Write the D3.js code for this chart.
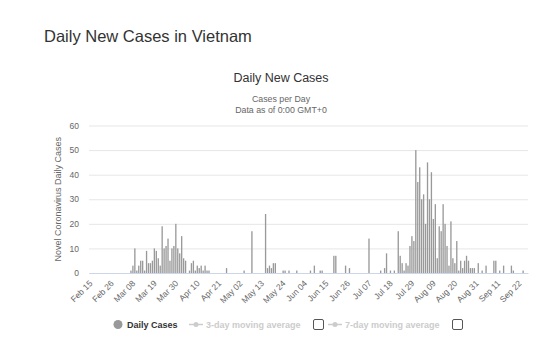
<!DOCTYPE html>
<html><head><meta charset="utf-8">
<script src="https://cdn.jsdelivr.net/npm/d3@7"></script>
<style>
body{margin:0;background:#fff;}
svg{display:block;font-family:"Liberation Sans",Arial,sans-serif;}
</style>
</head><body>
<svg id="chart" width="540" height="349"></svg>
<script>
// ---- data ----
const startDate = "2020-02-15";
const dailyCases = [
  0,0,0,0,0,0,0,0,0,0,0,0,0,0,0,
  0,0,0,0,0,0,1,3,10,1,3,5,5,1,9,
  4,4,5,10,9,6,3,19,10,11,14,5,10,11,20,
  10,8,15,6,5,0,1,4,5,1,3,2,3,1,3,
  1,1,0,0,0,0,0,0,0,0,2,0,0,0,0,
  0,0,0,0,1,0,0,0,17,0,0,0,0,0,0,
  24,2,3,2,4,4,0,0,0,1,1,0,1,0,0,
  0,1,0,0,0,0,0,0,1,0,3,0,0,1,1,
  0,0,0,0,0,7,7,0,0,0,0,3,0,2,0,
  0,0,0,0,0,0,0,0,14,0,0,0,0,0,1,
  0,2,8,0,1,0,1,0,17,7,4,1,4,3,11,
  15,13,50,37,43,30,32,20,45,30,41,22,28,6,19,
  17,28,20,11,3,21,6,4,13,1,5,2,5,7,5,
  2,2,2,0,4,0,1,0,3,0,0,0,5,5,0,
  1,0,3,0,0,0,3,1,0,0,0,0,1,0,0
];
const xTickLabels = ["Feb 15","Feb 26","Mar 08","Mar 19","Mar 30","Apr 10","Apr 21","May 02","May 13","May 24","Jun 04","Jun 15","Jun 26","Jul 07","Jul 18","Jul 29","Aug 09","Aug 20","Aug 31","Sep 11","Sep 22"];
const yTicks = [0,10,20,30,40,50,60];
const pageTitle = "Daily New Cases in Vietnam";
const chartTitle = "Daily New Cases";
const subtitles = ["Cases per Day","Data as of 0:00 GMT+0"];
const yAxisTitle = "Novel Coronavirus Daily Cases";
const legendLabels = ["Daily Cases","3-day moving average","7-day moving average"];

// ---- build ----
const fmt = d3.timeFormat("%b %d");
const start = d3.timeParse("%Y-%m-%d")(startDate);
const categories = dailyCases.map((v,i)=>fmt(d3.timeDay.offset(start,i)));
const rows = categories.map((c,i)=>({cat:c, value:dailyCases[i]}));

const svg = d3.select("#chart");
const plotL = 89, plotR = 528, plotT = 125.5, plotB = 273;

const x = d3.scaleBand().domain(categories).range([plotL,plotR]).paddingInner(0.32).paddingOuter(0.16);
const y = d3.scaleLinear().domain([0,60]).range([plotB,plotT]);

// titles
svg.append("text").attr("x",44).attr("y",42).attr("font-size",16.5).attr("fill","#333").text(pageTitle);
svg.append("text").attr("x",281).attr("y",82).attr("text-anchor","middle").attr("font-size",12.5).attr("fill","#333").text(chartTitle);
subtitles.forEach((s,i)=>svg.append("text").attr("x",281).attr("y",102+i*11).attr("text-anchor","middle").attr("font-size",8.8).attr("fill","#666").text(s));

// y grid + labels
const yAxis = d3.axisLeft(y).tickValues(yTicks).tickSize(-(plotR-plotL)).tickPadding(10);
const gy = svg.append("g").attr("transform",`translate(${plotL},0)`).call(yAxis);
gy.select(".domain").remove();
gy.selectAll(".tick line").attr("stroke","#e6e6e6");
gy.selectAll(".tick text").attr("fill","#666").attr("font-size",8.5).attr("font-family","Liberation Sans, Arial, sans-serif");

svg.append("text").attr("transform",`translate(61,${(plotT+plotB)/2}) rotate(-90)`).attr("text-anchor","middle")
  .attr("font-size",9).attr("fill","#666").text(yAxisTitle);

// bars
svg.append("g").selectAll("rect").data(rows).join("rect")
  .attr("x",d=>x(d.cat)).attr("width",x.bandwidth())
  .attr("y",d=>y(d.value)).attr("height",d=>y(0)-y(d.value))
  .attr("fill","#999");

// x axis
const xAxis = d3.axisBottom(x).tickValues(categories.filter(c=>xTickLabels.includes(c))).tickSize(0).tickPadding(0);
const gx = svg.append("g").attr("transform",`translate(0,${plotB})`).call(xAxis);
gx.select(".domain").attr("stroke","#ccd6eb");
gx.selectAll(".tick text").attr("fill","#666").attr("font-size",8.5).attr("font-family","Liberation Sans, Arial, sans-serif")
  .attr("text-anchor","end").attr("dy",0).attr("y",0).attr("transform","translate(3,11) rotate(-45)");

// legend
const ly = 325;
const lg = svg.append("g");
lg.append("circle").attr("cx",118).attr("cy",ly-0.5).attr("r",4.5).attr("fill","#999");
lg.append("text").attr("x",127).attr("y",ly+3).attr("font-size",9).attr("font-weight","bold").attr("fill","#333").text(legendLabels[0]);
function lineSym(cx){
  lg.append("line").attr("x1",cx-7).attr("x2",cx+7).attr("y1",ly-0.5).attr("y2",ly-0.5).attr("stroke","#ccc").attr("stroke-width",1.5);
  lg.append("circle").attr("cx",cx).attr("cy",ly-0.5).attr("r",2.5).attr("fill","#ccc");
}
function box(bx){
  lg.append("rect").attr("x",bx).attr("y",ly-5.5).attr("width",10).attr("height",10).attr("rx",1.5)
    .attr("fill","#fff").attr("stroke","#555").attr("stroke-width",1);
}
lineSym(196);
lg.append("text").attr("x",206).attr("y",ly+3).attr("font-size",9).attr("font-weight","bold").attr("fill","#ccc").text(legendLabels[1]);
box(313.5);
lineSym(335);
lg.append("text").attr("x",345).attr("y",ly+3).attr("font-size",9).attr("font-weight","bold").attr("fill","#ccc").text(legendLabels[2]);
box(452.5);
</script>
</body></html>
